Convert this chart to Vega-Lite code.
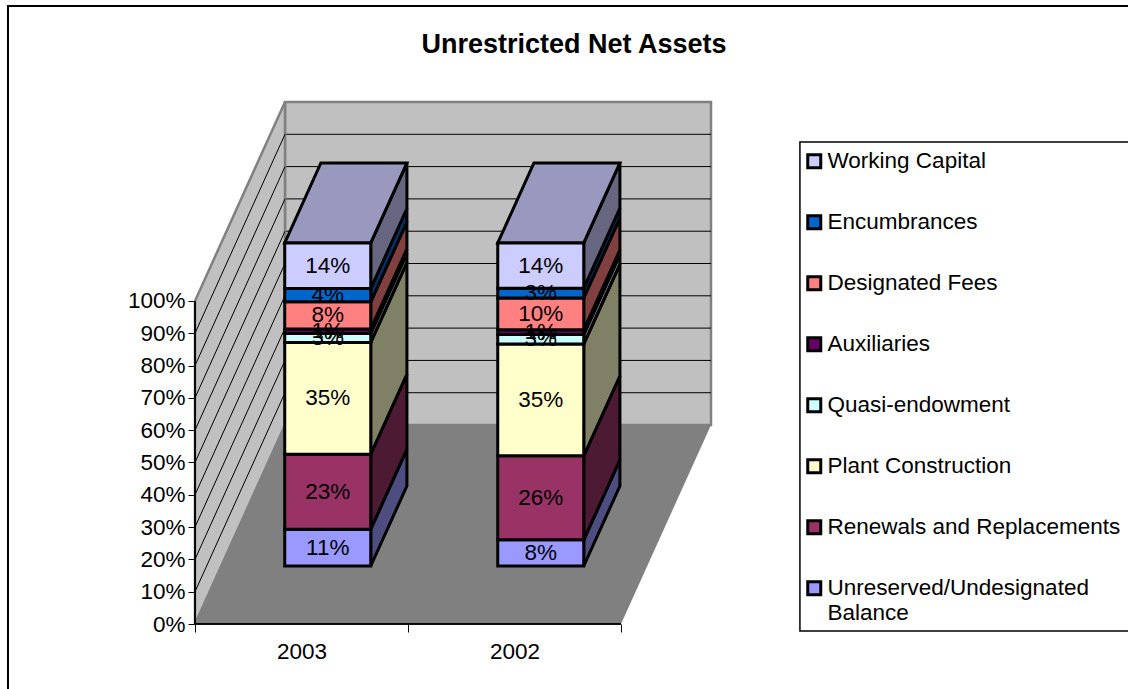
{
"$schema":"https://vega.github.io/schema/vega-lite/v6.json",
"width":516,"height":522,
"autosize":{"type":"none"},
"padding":{"left":195,"top":102,"right":417,"bottom":65},
"background":"white",
"title":{"text":"Unrestricted Net Assets","font":"Liberation Sans","fontSize":27,"fontWeight":"bold","color":"black","anchor":"middle","frame":"group","dx":121,"offset":-54},
"config":{"view":{"stroke":null},"font":"Liberation Sans"},
"datasets":{
"bars":[
{"year":"2003","series":"Unreserved/Undesignated Balance","value":11.4},
{"year":"2003","series":"Renewals and Replacements","value":23.2},
{"year":"2003","series":"Plant Construction","value":34.6},
{"year":"2003","series":"Quasi-endowment","value":2.8},
{"year":"2003","series":"Auxiliaries","value":1.4},
{"year":"2003","series":"Designated Fees","value":8.4},
{"year":"2003","series":"Encumbrances","value":4.1},
{"year":"2003","series":"Working Capital","value":14.1},
{"year":"2002","series":"Unreserved/Undesignated Balance","value":8.1},
{"year":"2002","series":"Renewals and Replacements","value":26.0},
{"year":"2002","series":"Plant Construction","value":34.6},
{"year":"2002","series":"Quasi-endowment","value":3.0},
{"year":"2002","series":"Auxiliaries","value":1.4},
{"year":"2002","series":"Designated Fees","value":9.9},
{"year":"2002","series":"Encumbrances","value":3.0},
{"year":"2002","series":"Working Capital","value":14.0}
],
"levels":[{"pct":10},{"pct":20},{"pct":30},{"pct":40},{"pct":50},{"pct":60},{"pct":70},{"pct":80},{"pct":90}],
"corners":[{"p":0},{"p":1},{"p":2},{"p":3}],
"ends":[{"d":0},{"d":1}],
"one":[{"p":0}]
},
"encoding":{
"x":{"field":"X","type":"quantitative","scale":{"domain":[0,2.4225],"nice":false,"zero":false},
"axis":{"title":null,"domain":false,"grid":false,"values":[0,0.5,1,1.5,2],"labelExpr":"datum.value==0.5?'2003':datum.value==1.5?'2002':''","tickSize":8,"tickColor":{"condition":{"test":"datum.value%1==0","value":"black"},"value":"transparent"},"labelFontSize":22.5,"labelColor":"black","labelFont":"Liberation Sans","labelPadding":8,"labelOverlap":false,"labelFlush":false,"labelBound":false}},
"y":{"field":"Y","type":"quantitative","stack":null,"scale":{"domain":[0,161.6],"nice":false,"zero":false},
"axis":{"title":null,"domain":false,"grid":false,"values":[0,10,20,30,40,50,60,70,80,90,100],"labelExpr":"datum.value+'%'","tickSize":7,"tickColor":"black","labelFontSize":22.5,"labelColor":"black","labelFont":"Liberation Sans","labelPadding":3,"labelOverlap":false,"labelFlush":false,"labelBound":false}}
},
"resolve":{"scale":{"fill":"independent"}},
"layer":[
{"data":{"name":"one"},
"transform":[{"calculate":"-0.878","as":"X"},{"calculate":"6","as":"X2"},{"calculate":"191.3","as":"Y"},{"calculate":"-40","as":"Y2"}],
"mark":{"type":"rect","filled":false,"stroke":"black","strokeWidth":2},
"encoding":{"x2":{"field":"X2"},"y2":{"field":"Y2"}}},
{"data":{"name":"one"},
"transform":[{"calculate":"2.84","as":"X"},{"calculate":"6","as":"X2"},{"calculate":"149.2","as":"Y"},{"calculate":"-2.2","as":"Y2"}],
"mark":{"type":"rect","fill":"white","stroke":"black","strokeWidth":1.5},
"encoding":{"x2":{"field":"X2"},"y2":{"field":"Y2"}}},
{"data":{"name":"one"},
"transform":[{"calculate":"0.4225","as":"X"},{"calculate":"2.4225","as":"X2"},{"calculate":"61.6","as":"Y"},{"calculate":"161.6","as":"Y2"}],
"mark":{"type":"rect","fill":"#C0C0C0","stroke":"#808080","strokeWidth":2.5},
"encoding":{"x2":{"field":"X2"},"y2":{"field":"Y2"}}},
{"data":{"name":"levels"},
"transform":[{"calculate":"0.4225","as":"X"},{"calculate":"2.4225","as":"X2"},{"calculate":"datum.pct+61.6","as":"Y"}],
"mark":{"type":"rule","stroke":"black","strokeWidth":1},
"encoding":{"x2":{"field":"X2"}}},
{"data":{"name":"ends"},
"transform":[{"calculate":"datum.d*0.4225","as":"X"},{"calculate":"datum.d*61.6","as":"Y"},{"calculate":"100+datum.d*61.6","as":"Y2"}],
"mark":{"type":"area","fill":"#C0C0C0","stroke":"#808080","strokeWidth":2.5},
"encoding":{"y2":{"field":"Y2"}}},
{"data":{"name":"levels"},
"transform":[{"calculate":"0","as":"X"},{"calculate":"0.4225","as":"X2"},{"calculate":"datum.pct","as":"Y"},{"calculate":"datum.pct+61.6","as":"Y2"}],
"mark":{"type":"rule","stroke":"black","strokeWidth":1},
"encoding":{"x2":{"field":"X2"},"y2":{"field":"Y2"}}},
{"data":{"name":"corners"},
"transform":[{"calculate":"[0,0.4225,2,2.4225][datum.p]","as":"X"},{"calculate":"[0,0,0,61.6][datum.p]","as":"Y"},{"calculate":"[0,61.6,61.6,61.6][datum.p]","as":"Y2"}],
"mark":{"type":"area","fill":"#808080"},
"encoding":{"y2":{"field":"Y2"}}},
{"data":{"name":"ends"},
"transform":[{"calculate":"0","as":"X"},{"calculate":"0","as":"X2"},{"calculate":"0","as":"Y"},{"calculate":"100","as":"Y2"}],
"mark":{"type":"rule","stroke":"black","strokeWidth":1.5},
"encoding":{"x2":{"field":"X2"},"y2":{"field":"Y2"}}},
{"data":{"name":"ends"},
"transform":[{"calculate":"0","as":"X"},{"calculate":"2","as":"X2"},{"calculate":"0","as":"Y"}],
"mark":{"type":"rule","stroke":"black","strokeWidth":1.5},
"encoding":{"x2":{"field":"X2"}}},
{"data":{"name":"bars"},
"transform":[
{"stack":"value","groupby":["year"],"as":["y0","y1"]},
{"calculate":"(datum.year=='2003'?0.5:1.5)+0.2019","as":"xr"},
{"calculate":"[0.2915,0.6935]","as":"D"},
{"flatten":["D"]},
{"calculate":"datum.xr+datum.D*0.4225","as":"X"},
{"calculate":"datum.y0+datum.D*61.6","as":"Y"},
{"calculate":"datum.y1+datum.D*61.6","as":"Y2"}],
"mark":{"type":"area","stroke":"black","strokeWidth":3,"strokeJoin":"miter"},
"encoding":{"y2":{"field":"Y2"},"detail":{"field":"year"},
"fill":{"field":"series","type":"nominal","legend":null,"scale":{"domain":["Working Capital","Encumbrances","Designated Fees","Auxiliaries","Quasi-endowment","Plant Construction","Renewals and Replacements","Unreserved/Undesignated Balance"],"range":["#666680","#003366","#804040","#330033","#668080","#808066","#4D1A33","#4D4D80"]}}}},
{"data":{"name":"bars"},
"transform":[
{"stack":"value","groupby":["year"],"as":["y0","y1"]},
{"filter":"datum.series=='Working Capital'"},
{"calculate":"[0,1,2,3]","as":"p"},
{"flatten":["p"]},
{"calculate":"(datum.year=='2003'?0.5:1.5)-0.2019+0.1232+[0,0.1698,0.4038,0.5736][datum.p]","as":"X"},
{"calculate":"datum.y1+17.96+(datum.p==3?24.76:0)","as":"Y"},
{"calculate":"datum.y1+17.96+(datum.p==0?0:24.76)","as":"Y2"}],
"mark":{"type":"area","fill":"#9999BF","stroke":"black","strokeWidth":3,"strokeJoin":"miter"},
"encoding":{"y2":{"field":"Y2"},"detail":{"field":"year"}}},
{"data":{"name":"bars"},
"transform":[
{"stack":"value","groupby":["year"],"as":["y0","y1"]},
{"calculate":"(datum.year=='2003'?0.5:1.5)-0.2019+0.1232","as":"X"},
{"calculate":"datum.X+0.4038","as":"X2"},
{"calculate":"datum.y0+17.96","as":"Y"},
{"calculate":"datum.y1+17.96","as":"Y2"}],
"mark":{"type":"rect","stroke":"black","strokeWidth":3},
"encoding":{"x2":{"field":"X2"},"y2":{"field":"Y2"},
"fill":{"field":"series","type":"nominal","sort":null,"scale":{"domain":["Working Capital","Encumbrances","Designated Fees","Auxiliaries","Quasi-endowment","Plant Construction","Renewals and Replacements","Unreserved/Undesignated Balance"],"range":["#CCCCFF","#0066CC","#FF8080","#660066","#CCFFFF","#FFFFCC","#993366","#9999FF"]},
"legend":{"orient":"none","legendX":608,"legendY":48,"title":null,"symbolType":"square","symbolSize":169,"symbolStrokeColor":"black","symbolStrokeWidth":3,"symbolOpacity":1,"labelFont":"Liberation Sans","labelFontSize":22.5,"labelColor":"black","labelLimit":400,"labelOffset":2,"rowPadding":35,"padding":0,"labelExpr":"datum.label=='Unreserved/Undesignated Balance'?['Unreserved/Undesignated','Balance']:datum.label"}}}},
{"data":{"name":"bars"},
"transform":[
{"stack":"value","groupby":["year"],"as":["y0","y1"]},
{"calculate":"(datum.year=='2003'?0.5:1.5)+0.1232","as":"X"},
{"calculate":"(datum.y0+datum.y1)/2+17.96","as":"Y"},
{"calculate":"round(datum.value)+'%'","as":"txt"}],
"mark":{"type":"text","font":"Liberation Sans","fontSize":22.5,"color":"black","align":"center","baseline":"middle"},
"encoding":{"text":{"field":"txt"}}}
]
}
